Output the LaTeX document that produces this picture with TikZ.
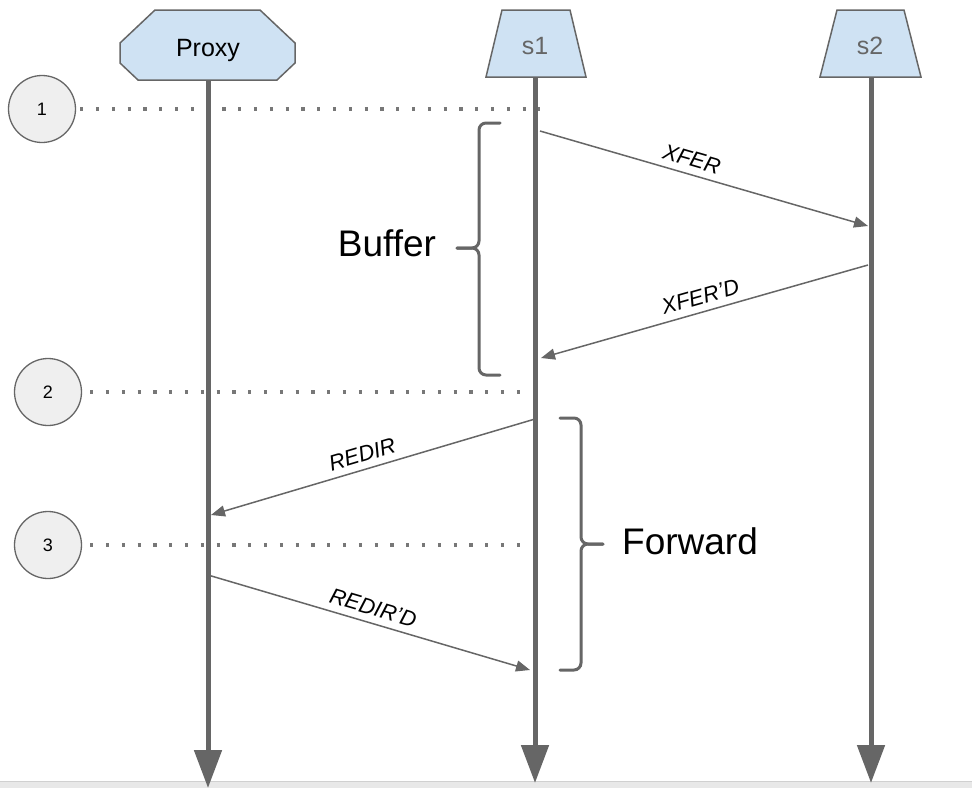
\documentclass[tikz,border=0pt]{standalone}
\usepackage{fontspec}
\setmainfont{Liberation Sans}
\usetikzlibrary{arrows.meta}
\definecolor{lg}{HTML}{666666}
\definecolor{hdr}{HTML}{CFE2F3}
\definecolor{cfill}{HTML}{EFEFEF}
\definecolor{dotc}{HTML}{777777}
\definecolor{stripc}{HTML}{E8E8E8}
\definecolor{stripl}{HTML}{D0D0D0}
\begin{document}
\begin{tikzpicture}[x=1pt,y=-1pt,
  hdrshape/.style={draw=lg, fill=hdr, line width=1.5pt, line join=miter},
  life/.style={draw=lg, line width=5pt, -{Triangle[length=38pt,width=27pt]}},
  msg/.style={draw=lg, line width=1.5pt, -{Triangle[length=14pt,width=11pt]}},
  msglabel/.style={font=\fontsize{22}{24}\selectfont\itshape, text=black, inner sep=2pt},
  stepcircle/.style={circle, draw=lg, fill=cfill, line width=1.3pt, minimum size=67pt, inner sep=0pt, font=\fontsize{18}{20}\selectfont},
  dotline/.style={draw=dotc, line width=3.2pt, dash pattern=on 3.2pt off 12.6pt},
  bracepath/.style={draw=lg, line width=3pt, rounded corners=7pt, line cap=round},
  bigtext/.style={font=\fontsize{37}{40}\selectfont, text=black}
]
\useasboundingbox (0,0) rectangle (972,788);
% bottom strip
\fill[stripc] (0,781) rectangle (972,788);
\draw[stripl, line width=1.5pt] (0,781.5) -- (972,781.5);

% headers
\draw[hdrshape] (155,10) -- (260,10) -- (295,43) -- (295,63) -- (277,80) -- (138,80) -- (120,63) -- (120,43) -- cycle;
\draw[hdrshape] (502,10) -- (570,10) -- (586,77) -- (486,77) -- cycle;
\draw[hdrshape] (837,10) -- (904,10) -- (921,77) -- (820,77) -- cycle;
\node[font=\fontsize{25}{27}\selectfont, text=black] (proxy) at (208,50) {Proxy};
\node[font=\fontsize{25}{27}\selectfont, text=lg] (s1) at (535,46) {s1};
\node[font=\fontsize{25}{27}\selectfont, text=lg] (s2) at (870,46) {s2};

% lifeline coordinates
\coordinate (pt) at (208,81);
\coordinate (pb) at (208,788);
\coordinate (at) at (535,78);
\coordinate (ab) at (535,783);
\coordinate (bt) at (871,78);
\coordinate (bb) at (871,783);

% step circles and dotted lines
\node[stepcircle] (c1) at (42,109) {1};
\node[stepcircle] (c2) at (48,392) {2};
\node[stepcircle] (c3) at (48,545) {3};
\coordinate (d1) at (540,109);
\coordinate (d2) at (524,392);
\coordinate (d3) at (524,545);
\draw[dotline] ([xshift=4pt]c1.east) -- (d1);
\draw[dotline] ([xshift=8pt]c2.east) -- (d2);
\draw[dotline] ([xshift=8pt]c3.east) -- (d3);

% lifelines
\draw[life] (pt) -- (pb);
\draw[life] (at) -- (ab);
\draw[life] (bt) -- (bb);

% messages
\coordinate (m1a) at (540,131);
\coordinate (m1b) at (868,226);
\coordinate (m2a) at (868,265);
\coordinate (m2b) at (541,358);
\coordinate (m3a) at (535,419);
\coordinate (m3b) at (211,515);
\coordinate (m4a) at (208,575);
\coordinate (m4b) at (530,670);
\draw[msg] (m1a) -- node[msglabel, sloped, above=5pt, pos=0.45] (l1) {XFER} (m1b);
\draw[msg] (m2a) -- node[msglabel, sloped, above=5pt, pos=0.5] (l2) {XFER’D} (m2b);
\draw[msg] (m3a) -- node[msglabel, sloped, above=5pt, pos=0.52] (l3) {REDIR} (m3b);
\draw[msg] (m4a) -- node[msglabel, sloped, above=5pt, pos=0.5] (l4) {REDIR’D} (m4b);

% braces
\draw[bracepath] (500,123) -- (479,123) -- (479,248) -- (457,248);
\draw[bracepath] (500,375) -- (479,375) -- (479,248) -- (457,248);
\draw[bracepath] (560,418) -- (581,418) -- (581,544) -- (603,544);
\draw[bracepath] (560,670) -- (581,670) -- (581,544) -- (603,544);
\node[bigtext] (buffer) at (387,243) {Buffer};
\node[bigtext] (forward) at (690,541) {Forward};
\end{tikzpicture}
\end{document}
